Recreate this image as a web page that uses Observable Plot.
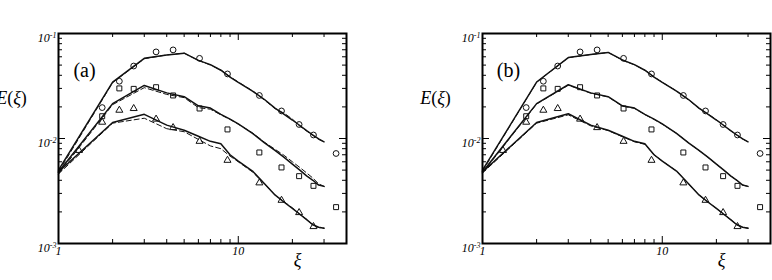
<!DOCTYPE html>
<html><head><meta charset="utf-8">
<script src="https://cdn.jsdelivr.net/npm/d3@7"></script>
<script src="https://cdn.jsdelivr.net/npm/@observablehq/plot@0.6"></script>
<style>
body{margin:0;background:#fff;}
#wrap{position:relative;width:772px;height:280px;overflow:hidden;background:#fff;}
#wrap > svg{position:absolute;top:0;}
#wrap svg, #wrap svg g, #wrap svg text, #wrap svg tspan{font-family:"Liberation Serif","Times New Roman","DejaVu Serif",serif !important;}
</style></head><body><div id="wrap"></div>
<script>
// ---- experimental points (same in both panels)
const xiCircles   = [1.75, 2.18, 2.62, 3.49, 4.34, 6.09, 8.71, 13.1, 17.4, 21.8, 26.2, 35.0];
const circleE     = [0.0197, 0.0351, 0.049, 0.0668, 0.0698, 0.058, 0.0412, 0.0257, 0.0183, 0.0136, 0.0108, 0.0072];
const xiSquares   = [1.75, 2.18, 2.62, 3.49, 4.34, 6.09, 8.71, 13.1, 17.4, 21.8, 26.2, 35.0];
const squareE     = [0.0163, 0.030, 0.0297, 0.0308, 0.0257, 0.0193, 0.0122, 0.00736, 0.0053, 0.00438, 0.00354, 0.00222];
const xiTriangles = [1.30, 1.75, 2.18, 2.62, 3.49, 4.34, 6.09, 8.71, 13.1, 17.4, 21.8, 26.2];
const triangleE   = [0.0077, 0.0143, 0.0186, 0.0193, 0.0153, 0.0127, 0.0094, 0.0062, 0.00378, 0.00258, 0.00197, 0.00145];

// ---- simulation curves
const xiSim = [1,2,3,4,5,6,7,8,9,10,12,14,16,18,20,22,24,26,28,30];
const aSolidCircle = [0.0050,0.0345,0.058,0.0625,0.065,0.0555,0.0505,0.0447,0.0385,0.0342,0.0283,0.0235,0.0195,0.0170,0.0150,0.0133,0.0119,0.0108,0.0099,0.0093];
const aDashCircle  = [0.0048,0.0340,0.0575,0.0625,0.065,0.0555,0.0500,0.0450,0.0388,0.0345,0.0285,0.0232,0.0193,0.0174,0.0153,0.0131,0.0118,0.0107,0.0098,0.0093];
const aSolidSquare = [0.0048,0.0215,0.032,0.0272,0.025,0.0205,0.0195,0.0170,0.0153,0.0138,0.0112,0.0091,0.0077,0.0066,0.0057,0.0050,0.0044,0.0040,0.0036,0.0035];
const aDashSquare  = [0.0046,0.0210,0.0305,0.0263,0.0245,0.0197,0.0190,0.0168,0.0152,0.0137,0.0113,0.0092,0.0079,0.0069,0.0060,0.0053,0.0047,0.0042,0.0037,0.0035];
const aSolidTri    = [0.0048,0.0142,0.0170,0.0134,0.0120,0.0105,0.0094,0.0089,0.0070,0.0061,0.0049,0.0037,0.0029,0.00247,0.00216,0.0019,0.00169,0.00151,0.00143,0.0014];
const aDashTri     = [0.0046,0.0140,0.0156,0.0124,0.0116,0.0098,0.0085,0.0080,0.0068,0.0060,0.0048,0.0037,0.0029,0.0025,0.00218,0.0019,0.0017,0.0015,0.00142,0.0014];

const bSolidCircle = [0.0050,0.0345,0.059,0.0630,0.066,0.0560,0.0505,0.0447,0.0385,0.0342,0.0283,0.0235,0.0195,0.0170,0.0150,0.0133,0.0119,0.0108,0.0099,0.0093];
const bDashCircle  = [0.0049,0.0343,0.0588,0.0630,0.066,0.0558,0.0503,0.0448,0.0386,0.0343,0.0284,0.0234,0.0194,0.0171,0.0151,0.0133,0.0119,0.0108,0.0099,0.0093];
const bSolidSquare = [0.0048,0.0215,0.0325,0.0272,0.025,0.0205,0.0195,0.0170,0.0153,0.0138,0.0112,0.0091,0.0077,0.0066,0.0057,0.0050,0.0044,0.0040,0.0036,0.0035];
const bDashSquare  = [0.0047,0.0213,0.0322,0.0270,0.0249,0.0203,0.0194,0.0169,0.0152,0.0137,0.0112,0.0091,0.0077,0.0066,0.0057,0.0050,0.0044,0.0040,0.0036,0.0035];
const bSolidTri    = [0.0048,0.0142,0.0172,0.0134,0.0120,0.0105,0.0094,0.0089,0.0070,0.0061,0.0049,0.0037,0.0029,0.00247,0.00216,0.0019,0.00169,0.00151,0.00143,0.0014];
const bDashTri     = [0.0047,0.0140,0.0168,0.0132,0.0119,0.0104,0.0093,0.0088,0.0070,0.0061,0.0049,0.0037,0.0029,0.00247,0.00216,0.0019,0.00169,0.00151,0.00143,0.0014];

// ---- ticks & labels
const xTickLabels = [1, 10];
const xMinorTicks = [2,3,4,5,6,7,8,9,20,30];
const xMajorTicks = [10];
const yTickLabels = [0.1, 0.01, 0.001];
const yMinorTicks = [0.002,0.003,0.004,0.005,0.006,0.007,0.008,0.009,0.02,0.03,0.04,0.05,0.06,0.07,0.08,0.09];
const yMajorTicks = [0.01];

const serif = "Liberation Serif";

function curves(xs, sets) {
  const out = [];
  sets.forEach(([name, ys]) => xs.forEach((x, i) => out.push({xi: x, E: ys[i], s: name})));
  return out;
}
function pts(xs, ys) { return xs.map((x, i) => ({xi: x, E: ys[i]})); }

function panel(tag, solid, dashed, mLeft, mRight) {
  const W = 386, H = 280, mTop = 33, mBottom = 37;
  const iw = W - mLeft - mRight, ih = H - mTop - mBottom;
  const solidData = curves(xiSim, solid);
  const dashData = curves(xiSim, dashed);
  const svg = Plot.plot({
    width: W, height: H,
    marginLeft: mLeft, marginRight: mRight, marginTop: mTop, marginBottom: mBottom,
    x: {type: "log", domain: [1, 40]},
    y: {type: "log", domain: [0.001, 0.1]},
    style: {background: "white", color: "#000"},
    marks: [
      // inward ticks on all four sides
      Plot.ruleX(xMinorTicks, {x: d => d, insetTop: ih - 4, stroke: "#000"}),
      Plot.ruleX(xMinorTicks, {x: d => d, insetBottom: ih - 4, stroke: "#000"}),
      Plot.ruleX(xMajorTicks, {x: d => d, insetTop: ih - 7, stroke: "#000"}),
      Plot.ruleX(xMajorTicks, {x: d => d, insetBottom: ih - 7, stroke: "#000"}),
      Plot.ruleY(yMinorTicks, {y: d => d, insetRight: iw - 4, stroke: "#000"}),
      Plot.ruleY(yMinorTicks, {y: d => d, insetLeft: iw - 4, stroke: "#000"}),
      Plot.ruleY(yMajorTicks, {y: d => d, insetRight: iw - 7, stroke: "#000"}),
      Plot.ruleY(yMajorTicks, {y: d => d, insetLeft: iw - 7, stroke: "#000"}),
      Plot.axisX({ticks: xTickLabels, tickSize: 0, tickPadding: 3, tickFormat: d => String(d),
        label: null, fontSize: 12, fontStyle: "italic"}),
      Plot.axisY({ticks: yTickLabels, tickSize: 0, tickPadding: 2, dy: 5,
        tickFormat: d => "10^" + Math.round(Math.log10(d)),
        label: null, fontSize: 12, fontStyle: "italic"}),
      Plot.line(dashData, {x: "xi", y: "E", z: "s", stroke: "#111", strokeWidth: 1, strokeDasharray: "5,3"}),
      Plot.line(solidData, {x: "xi", y: "E", z: "s", stroke: "#111", strokeWidth: 1.5}),
      Plot.dot(pts(xiCircles, circleE), {x: "xi", y: "E", symbol: "circle", r: 2.9, stroke: "#111", fill: "none", strokeWidth: 1}),
      Plot.dot(pts(xiSquares, squareE), {x: "xi", y: "E", symbol: "square", r: 2.8, stroke: "#111", fill: "none", strokeWidth: 1}),
      Plot.dot(pts(xiTriangles, triangleE), {x: "xi", y: "E", symbol: "triangle", r: 2.6, stroke: "#111", fill: "none", strokeWidth: 1}),
      Plot.frame({stroke: "#000", strokeWidth: 2}),
      Plot.text([tag], {text: d => d, frameAnchor: "top-left", dx: 26, dy: 29, fontSize: 20, textAnchor: "middle", fill: "#000"}),
      Plot.text(["E(ξ)"], {text: d => d, frameAnchor: "top-left", dx: -47, dy: 58, fontSize: 18, textAnchor: "middle", fill: "#000"}),
      Plot.text(["ξ"], {text: d => d, frameAnchor: "bottom", dx: 95, dy: 22, fontSize: 18, fontStyle: "italic", fill: "#000"})
    ]
  });
  // superscripts and mixed italics
  d3.select(svg).selectAll("text").each(function() {
    const t = this.textContent;
    const el = d3.select(this);
    if (t.includes("^")) {
      const [b, e] = t.split("^");
      el.text(null);
      el.append("tspan").text(b);
      el.append("tspan").attr("dy", "-0.55em").attr("font-size", 8).text(e);
    } else if (t === "E(ξ)") {
      el.text(null);
      [["E", "italic"], ["(", "normal"], ["ξ", "italic"], [")", "normal"]].forEach(([c, st]) =>
        el.append("tspan").attr("font-style", st).text(c));
    }
  });
  return svg;
}

const wrap = document.getElementById("wrap");
const svgA = panel("(a)",
  [["c", aSolidCircle], ["s", aSolidSquare], ["t", aSolidTri]],
  [["c", aDashCircle], ["s", aDashSquare], ["t", aDashTri]], 58, 40);
svgA.style.left = "0px";
const svgB = panel("(b)",
  [["c", bSolidCircle], ["s", bSolidSquare], ["t", bSolidTri]],
  [["c", bDashCircle], ["s", bDashSquare], ["t", bDashTri]], 96, 2);
svgB.style.left = "386px";
wrap.appendChild(svgA);
wrap.appendChild(svgB);
</script></body></html>
